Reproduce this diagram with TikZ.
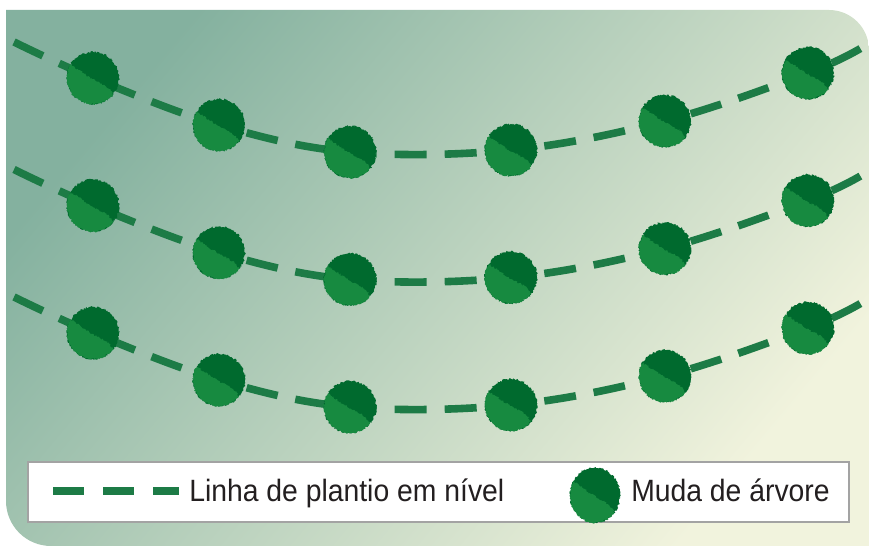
\documentclass[tikz,border=0pt]{standalone}
\usepackage{fontspec}
\setmainfont{Liberation Sans}[FakeStretch=0.92]
\usepackage{tikz}
\usetikzlibrary{decorations.pathmorphing}

\definecolor{fundoescuro}{HTML}{84B19F}
\definecolor{fundomeio}{HTML}{BDD7C4}
\definecolor{fundoclaro}{HTML}{F1F3DD}
\definecolor{mudaescura}{HTML}{006A2E}
\definecolor{mudaclara}{HTML}{178A40}
\definecolor{linhaverde}{HTML}{1D7B46}
\definecolor{borda}{HTML}{A3A3A3}
\definecolor{texto}{HTML}{231F20}

\tikzset{
	linha/.style={linhaverde, line width=0.19cm, dash pattern=on 0.8cm off 0.45cm},
	fofo/.style={decorate, decoration={random steps, segment length=0.8pt, amplitude=0.7pt}},
	pics/muda/.style={code={
		\fill[mudaescura, fofo] (0,0) circle (26);
		\fill[mudaclara, fofo] (-40:26) arc[start angle=-40, end angle=-211, radius=26]
			.. controls (-14,8) and (-6,2) .. (1,-2)
			.. controls (8,-6) and (16,-8) .. cycle;
	}},
	legenda/.style={font=\fontsize{21.9}{26}\selectfont, text=texto, inner sep=0pt, anchor=base west}
}

\begin{document}
\begin{tikzpicture}[x=0.025cm, y=0.025cm]
	\pgfmathsetseed{7}
	\useasboundingbox (0,0) rectangle (869,546);

	% fundo
	\shade[top color=fundoescuro, middle color=fundomeio, bottom color=fundoclaro, shading angle=50]
		(6,536) -- (829,536) arc[start angle=90, end angle=0, radius=40]
		-- (869,0) -- (51,0) arc[start angle=270, end angle=180, radius=45] -- cycle;

	% linhas de plantio em nivel, com as mudas
	\foreach \dy [count=\r] in {0,-127.5,-255} {
		\begin{scope}[shift={(0,\dy)}]
			\coordinate (ini\r) at (14,504);
			\coordinate (fim\r) at (863,499);
			\coordinate (m\r-1) at (93,468);
			\coordinate (m\r-2) at (219,421);
			\coordinate (m\r-3) at (350,394);
			\coordinate (m\r-4) at (511,396);
			\coordinate (m\r-5) at (665,425);
			\coordinate (m\r-6) at (808,473);
			\draw[linha] plot[smooth, tension=0.6] coordinates {(ini\r) (m\r-1) (m\r-2) (m\r-3) (m\r-4) (m\r-5) (m\r-6) (fim\r)};
			\foreach \k in {1,...,6}
				\pic at (m\r-\k) {muda};
		\end{scope}
	}

	% legenda
	\draw[borda, fill=white, line width=0.04cm] (28,24) rectangle (849,84);
	\foreach \a/\b in {53/84,103/134,153/179}
		\draw[linhaverde, line width=0.18cm] (\a,55) -- (\b,55);
	\node[legenda] (txtlinha) at (189,44) {Linha de plantio em nível};
	\pic[xscale=0.96, yscale=1.06] at (595,51) {muda};
	\node[legenda] (txtmuda) at (631,44) {Muda de árvore};
\end{tikzpicture}
\end{document}
